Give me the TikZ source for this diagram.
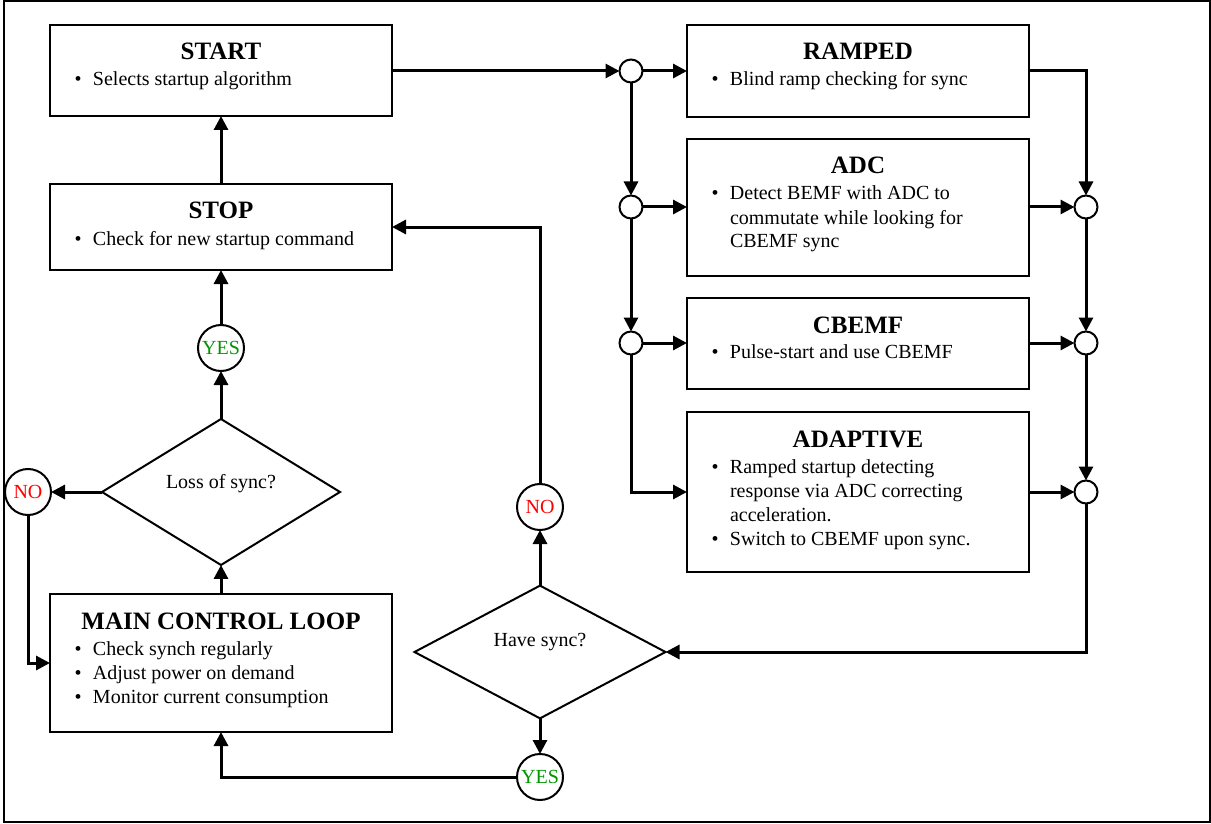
\documentclass[tikz,border=0pt]{standalone}
\usepackage{fontspec}
\setmainfont{Liberation Serif}
\usepackage{tikz}
\usetikzlibrary{arrows.meta,shapes.geometric,positioning,calc}
\definecolor{yesgreen}{RGB}{0,150,0}
\tikzset{
    flow/.style={-{Triangle[length=7pt, width=7pt]}, line width=1.5pt},
    statebox/.style={draw, rectangle, line width=1pt, inner sep=0pt, outer sep=0pt},
    decision/.style={draw, diamond, line width=1pt, inner sep=0pt, outer sep=0pt, text height=7pt},
    junction/.style={draw, circle, line width=1pt, minimum size=11.5pt, inner sep=0pt, outer sep=0pt},
    answer/.style={draw, circle, line width=1pt, minimum size=23pt, inner sep=0pt, outer sep=0pt}
}
% box contents: height, title, bullet items
\newcommand{\boxbody}[3]{%
  \parbox[c][#1][t]{171pt}{%
    \centering\fontsize{12.5}{14}\selectfont\bfseries\rule{0pt}{17.5pt}#2\par
    \raggedright\fontsize{10}{12}\selectfont\mdseries\vspace{1pt}#3}}
\newcommand{\bitem}{\par\hangindent=21.5pt\hangafter=1\noindent\hspace*{12.25pt}\makebox[9.25pt][l]{\textbullet}}

\begin{document}
\begin{tikzpicture}[x=0.5pt, y=-0.5pt]
    \useasboundingbox (0,0) rectangle (1211,824);
    \draw[line width=1pt] (4,1) rectangle (1209.5,822);

    % left column
    \node[statebox] (start) at (221,70.5) {\boxbody{45.5pt}{START}{\bitem Selects startup algorithm}};
    \node[statebox] (stop) at (221,227) {\boxbody{43pt}{STOP}{\bitem Check for new startup command}};
    \node[answer, text=yesgreen] (yestop) at (221,348) {YES};
    \node[decision, minimum width=119pt, minimum height=56.5pt, text depth=11pt] (loss) at (221,492) {Loss of sync?};
    \node[answer, text=red] (noleft) at (28,492) {NO};
    \node[statebox] (main) at (221,663) {\boxbody{69pt}{MAIN CONTROL LOOP}{\bitem Check synch regularly \bitem Adjust power on demand \bitem Monitor current consumption}};

    % middle column
    \node[answer, text=red] (nomid) at (540,507) {NO};
    \node[decision, minimum width=125.5pt, minimum height=56pt, text depth=13pt] (havesync) at (540,652) {Have sync?};
    \node[answer, text=yesgreen] (yesbot) at (540,777) {YES};

    % startup algorithms
    \node[statebox] (ramped) at (858,71) {\boxbody{46pt}{RAMPED}{\bitem Blind ramp checking for sync}};
    \node[statebox] (adc) at (858,207.5) {\boxbody{68.5pt}{ADC}{\bitem Detect BEMF with ADC to\newline commutate while looking for\newline CBEMF sync}};
    \node[statebox] (cbemf) at (858,343.5) {\boxbody{45.5pt}{CBEMF}{\bitem Pulse-start and use CBEMF}};
    \node[statebox] (adaptive) at (858,492) {\boxbody{80pt}{ADAPTIVE}{\bitem Ramped startup detecting\newline response via ADC correcting\newline acceleration. \bitem Switch to CBEMF upon sync.}};

    \node[junction] (s1) at (631,71) {};
    \node[junction] (s2) at (631,207) {};
    \node[junction] (s3) at (631,343) {};
    \node[junction] (m1) at (1086,207) {};
    \node[junction] (m2) at (1086,343) {};
    \node[junction] (m3) at (1086,492) {};

    % main loop
    \draw[flow] (stop) -- (start);
    \draw[flow] (yestop) -- (stop);
    \draw[flow] (loss) -- (yestop);
    \draw[flow] (main) -- (loss);
    \draw[flow] (loss) -- (noleft);
    \draw[flow] (noleft) |- (main);
    \draw[flow] (havesync) -- (nomid);
    \draw[flow] (nomid) |- (stop);
    \draw[flow] (havesync) -- (yesbot);
    \draw[flow] (yesbot) -| (main);

    % split into algorithms
    \draw[flow] (start.east |- s1) -- (s1);
    \draw[flow] (s1) -- (ramped.west |- s1);
    \draw[flow] (s1) -- (s2);
    \draw[flow] (s2) -- (adc.west |- s2);
    \draw[flow] (s2) -- (s3);
    \draw[flow] (s3) -- (cbemf.west |- s3);
    \draw[flow] (s3) |- (adaptive);

    % merge back
    \draw[flow] (ramped) -| (m1);
    \draw[flow] (adc.east |- m1) -- (m1);
    \draw[flow] (m1) -- (m2);
    \draw[flow] (cbemf.east |- m2) -- (m2);
    \draw[flow] (m2) -- (m3);
    \draw[flow] (adaptive) -- (m3);
    \draw[flow] (m3) |- (havesync);
\end{tikzpicture}
\end{document}
